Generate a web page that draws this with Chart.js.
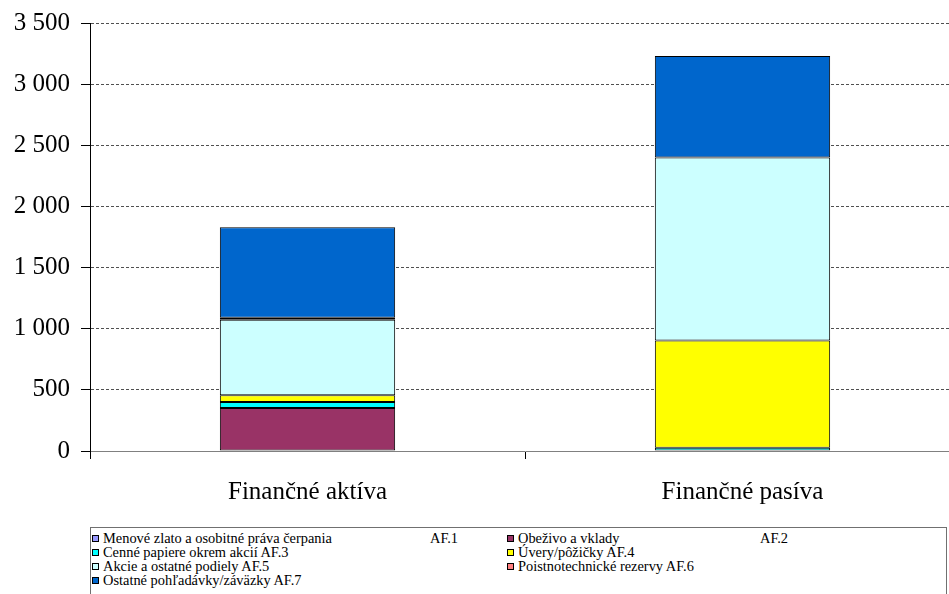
<!DOCTYPE html>
<html>
<head>
<meta charset="utf-8">
<script src="https://cdn.jsdelivr.net/npm/chart.js@4"></script>
<style>
  html, body { margin: 0; padding: 0; background: #fff; overflow: hidden; }
  #wrap { position: relative; width: 960px; height: 594px; }
  #chart { position: absolute; left: 0; top: 0; }
  #legend {
    position: absolute; left: 90px; top: 527px; width: 857px; height: 80px;
    border: 1px solid #707070; box-sizing: border-box;
    font-family: "Liberation Serif", Tinos, "Times New Roman", Times, "DejaVu Serif", serif;
    font-size: 14.4px; color: #000;
  }
  .item { position: absolute; white-space: nowrap; line-height: 14px; }
  .mark { position: absolute; left: 0; top: 4px; width: 5px; height: 5px; border: 1px solid #000; }
  .txt { position: absolute; left: 11px; top: 0; }
</style>
</head>
<body>
<div id="wrap">
  <canvas id="chart" width="960" height="520"></canvas>
  <div id="legend"></div>
</div>
<script>
// ----------------- DATA -----------------
const categories = ['Finančné aktíva', 'Finančné pasíva'];
const seriesNames = [
  'Menové zlato a osobitné práva čerpania\tAF.1',
  'Obeživo a vklady\tAF.2',
  'Cenné papiere okrem akcií AF.3',
  'Úvery/pôžičky AF.4',
  'Akcie a ostatné podiely AF.5',
  'Poistnotechnické rezervy AF.6',
  'Ostatné pohľadávky/záväzky AF.7'
];
const af1 = [0, 0];
const af2 = [353, 0];
const af3 = [48, 27];
const af4 = [55, 877];
const af5 = [619, 1498];
const af6 = [16, 0];
const af7 = [741, 831];
const seriesColors = ['#9999FF', '#993366', '#00FFFF', '#FFFF00', '#CCFFFF', '#FF8080', '#0066CC'];
const yTicks = [0, 500, 1000, 1500, 2000, 2500, 3000, 3500];
// ----------------------------------------

const seriesValues = [af1, af2, af3, af4, af5, af6, af7];
const serif = '"Liberation Serif", Tinos, "Times New Roman", Times, "DejaVu Serif", serif';

// formát 3 500
function fmt(v) {
  return String(v).replace(/\B(?=(\d{3})+(?!\d))/g, ' ');
}

const datasets = seriesNames.map((name, i) => ({
  label: name,
  data: seriesValues[i],
  backgroundColor: seriesColors[i],
  borderColor: '#000',
  borderWidth: 1,
  borderSkipped: false,
  categoryPercentage: 1,
  barPercentage: 0.403
}));

function draw() {
  new Chart(document.getElementById('chart'), {
    type: 'bar',
    data: { labels: categories, datasets },
    options: {
      responsive: false,
      animation: false,
      layout: { padding: { top: 22, right: 0, left: 0, bottom: 0 } },
      plugins: { legend: { display: false }, tooltip: { enabled: false } },
      scales: {
        x: {
          stacked: true,
          afterFit: s => { s.height = 69; },
          border: { color: '#808080', width: 1 },
          grid: { offset: true, drawOnChartArea: false, tickLength: 8, tickColor: '#000' },
          ticks: { font: { family: serif, size: 25 }, color: '#000', padding: 18, maxRotation: 0 }
        },
        y: {
          stacked: true,
          min: 0,
          max: 3500,
          afterFit: s => { s.width = 90; },
          afterBuildTicks: s => { s.ticks = yTicks.map(v => ({ value: v })); },
          border: { color: '#000', width: 1, dash: [3, 2] },
          grid: { color: '#505050', tickColor: '#000', tickLength: 9 },
          ticks: { font: { family: serif, size: 25, lineHeight: 1 }, color: '#000', padding: 11, callback: v => fmt(v) }
        }
      }
    }
  });
}

// legenda
const legend = document.getElementById('legend');
seriesNames.forEach((name, i) => {
  const col = i % 2, row = Math.floor(i / 2);
  const item = document.createElement('div');
  item.className = 'item';
  item.style.left = (col ? 416 : 1) + 'px';
  item.style.top = (3 + row * 14) + 'px';
  const mark = document.createElement('span');
  mark.className = 'mark';
  mark.style.background = seriesColors[i];
  item.appendChild(mark);
  const parts = name.split('\t');
  const txt = document.createElement('span');
  txt.className = 'txt';
  txt.textContent = parts[0];
  item.appendChild(txt);
  if (parts[1]) {
    const code = document.createElement('span');
    code.className = 'txt';
    code.style.left = (col ? 253 : 338) + 'px';
    code.textContent = parts[1];
    item.appendChild(code);
  }
  legend.appendChild(item);
});

if (document.fonts && document.fonts.load) {
  document.fonts.load('24px "Liberation Serif"').then(draw, draw);
} else {
  draw();
}
</script>
</body>
</html>
